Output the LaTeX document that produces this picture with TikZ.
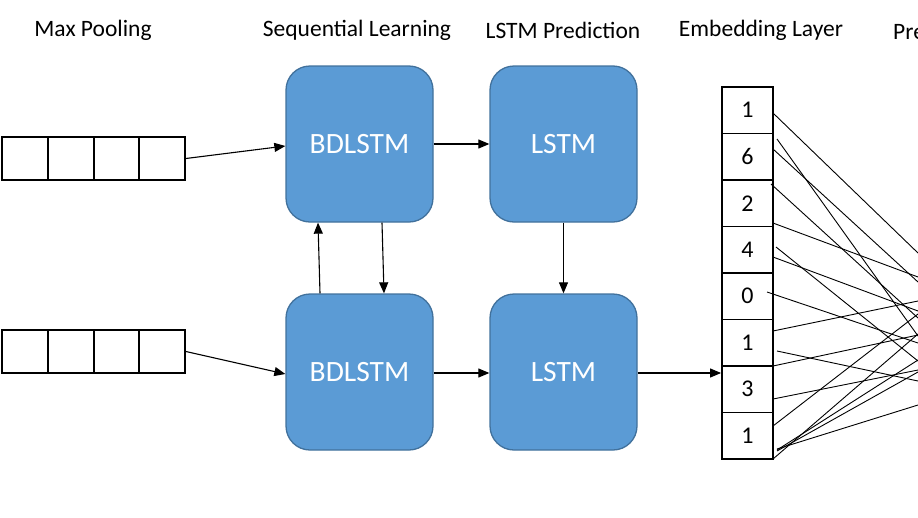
\documentclass[tikz,border=0pt]{standalone}
\usepackage{fontspec}
\setmainfont{Carlito}
\usetikzlibrary{arrows.meta}
\definecolor{boxfill}{HTML}{5B9BD5}
\definecolor{boxline}{HTML}{41719C}
\tikzset{
  title/.style={font=\fontsize{23.5}{27}\selectfont, inner sep=0pt},
  blk/.style={draw=boxline, line width=1.3pt, fill=boxfill, rounded corners=24pt,
    minimum width=147pt, minimum height=156pt, inner sep=0pt, text=white,
    font=\fontsize{29.5}{34}\selectfont},
  cell/.style={draw=black, line width=1.8pt, minimum width=46pt, minimum height=43pt, inner sep=0pt},
  ecell/.style={draw=black, line width=1.8pt, minimum width=51pt, minimum height=46.5pt, inner sep=0pt,
    font=\fontsize{24}{28}\selectfont},
  arr/.style={line width=1.1pt, -{Triangle[length=11pt,width=9pt]}},
  wire/.style={line width=0.9pt}
}
\begin{document}
\begin{tikzpicture}[x=1pt,y=-1pt]
\useasboundingbox (0,0) rectangle (918,517);
% titles
\node[title] (t1) at (93,30) {Max Pooling};
\node[title] (t2) at (357,30) {Sequential Learning};
\node[title] (t3) at (563,30) {LSTM Prediction};
\node[title] (t4) at (761,30) {Embedding Layer};
\node[title, anchor=west] (t5) at (893,32) {Pre};
% pooling arrays
\foreach \i/\x in {1/25,2/71,3/116.5,4/162}{
  \node[cell] (pa\i) at (\x,158.5) {};
  \node[cell] (pb\i) at (\x,351.5) {};
}
% blocks
\node[blk] (b1) at (359.5,144) {BDLSTM};
\node[blk] (b2) at (359.5,372) {BDLSTM};
\node[blk] (l1) at (563.5,144) {LSTM};
\node[blk] (l2) at (563.5,372) {LSTM};
% embedding cells
\foreach \i/\v in {1/1,2/6,3/2,4/4,5/0,6/1,7/3,8/1}{
  \node[ecell] (e\i) at (747.5,{87+23.25+46.5*(\i-1)}) {\v};
}
% arrows
\draw[arr] (pa4.east) -- (b1.west |- 0,146);
\draw[arr] (pb4.east) -- (b2.west |- 0,374);
\draw[arr] (b1.east |- 0,144) -- (l1.west |- 0,144);
\draw[arr] (b2.east |- 0,373) -- (l2.west |- 0,373);
\draw[arr] (b2.north -| 320,0) -- (b1.south -| 318,0);
\draw[arr] (b1.south -| 382,0) -- (b2.north -| 384,0);
\draw[arr] (l1.south) -- (l2.north);
\draw[arr] (l2.east |- 0,373) -- (e7.west |- 0,373);
% wires to prediction layer
\foreach \n/\sx/\sy/\ey in {
  1/773/113/253, 2/777/139/336, 3/773/149/282, 4/771/184/318,
  5/773/223/277, 6/776/247/361, 7/773/257/311, 8/767/292/343,
  9/773/331/301, 10/777/351/381, 11/773/366/335, 12/773/399/370,
  13/773/426/314, 14/777/450/360, 15/777/451/372, 16/773/459/334,
  17/777/449/405}{
  \coordinate (ws\n) at (\sx,\sy);
  \coordinate (we\n) at (918,\ey);
  \draw[wire] (ws\n) -- (we\n);
}
\end{tikzpicture}
\end{document}
